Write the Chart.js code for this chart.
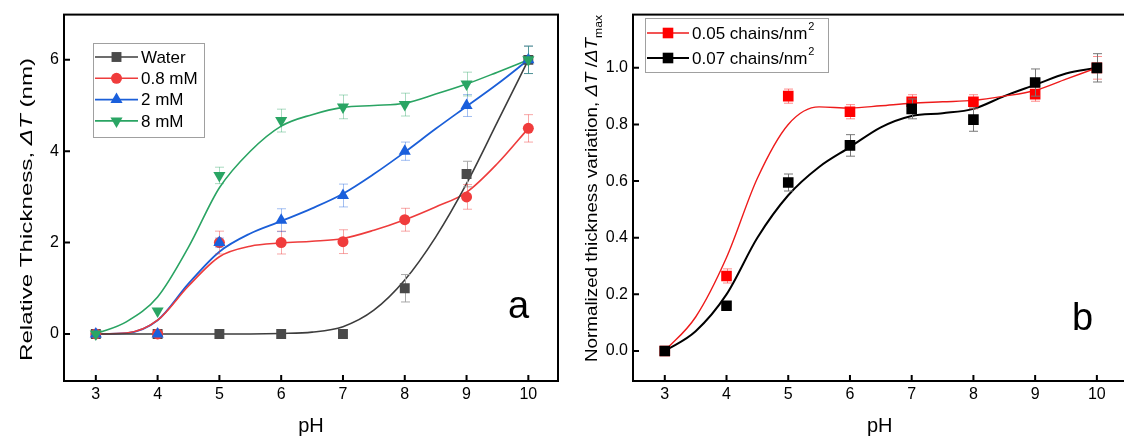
<!DOCTYPE html>
<html><head><meta charset="utf-8">
<script src="https://cdn.jsdelivr.net/npm/chart.js@4.4.0/dist/chart.umd.min.js"></script>
<style>
html,body{margin:0;padding:0;background:#fff;overflow:hidden;width:1124px;height:437px;}
#wa{position:absolute;left:0;top:0;width:565px;height:437px;}
#wb{position:absolute;left:565px;top:0;width:569px;height:437px;}
</style></head><body>
<div id="wa"><canvas id="ca"></canvas></div>
<div id="wb"><canvas id="cb"></canvas></div>
<script>
const font="'Liberation Sans', Arial, sans-serif";

// shared x
const pH=[3,4,5,6,7,8,9,10];
const xTicks=[3,4,5,6,7,8,9,10];
const fitX=[3,3.5,4,4.5,5,5.5,6,6.5,7,7.5,8,8.5,9,9.5,10];

// panel a
const aTicksY=[0,2,4,6];
const water=[0,0,0,0,0,1.0,3.5,6.0],        waterErr=[0,0,0,0,0,0.3,0.28,0.3];
const mM08=[0,0,2.0,2.0,2.02,2.5,3.0,4.5],   mM08Err=[0,0,0.25,0.25,0.26,0.25,0.27,0.3];
const mM2=[0,0,2.0,2.49,3.03,4.0,5.0,6.0],   mM2Err=[0,0,0.1,0.25,0.25,0.2,0.24,0.3];
const mM8=[0,0.5,3.47,4.67,4.97,5.02,5.47,6.0], mM8Err=[0,0,0.18,0.25,0.26,0.25,0.26,0.3];
const waterFit=[0,0,0,0,0,0,0.01,0.04,0.16,0.52,1.18,2.12,3.29,4.64,6.0];
const mM08Fit=[0,0.02,0.3,1.05,1.69,1.92,1.99,2.03,2.09,2.27,2.5,2.78,3.1,3.73,4.5];
const mM2Fit=[0,0.02,0.3,1.1,1.8,2.2,2.47,2.75,3.07,3.5,3.98,4.49,4.98,5.47,6.0];
const mM8Fit=[0,0.27,0.81,1.9,3.2,4.0,4.55,4.8,4.96,5.0,5.05,5.25,5.47,5.73,6.0];

// panel b
const bTicksY=[0,0.2,0.4,0.6,0.8,1.0];
const c05=[0,0.265,0.90,0.845,0.88,0.88,0.907,1.0], c05Err=[0,0.025,0.025,0.025,0.025,0.025,0.025,0.04];
const c07=[0,0.16,0.595,0.726,0.855,0.817,0.948,1.0], c07Err=[0,0,0.03,0.038,0.035,0.041,0.048,0.05];
const c05Fit=[0,0.12,0.33,0.61,0.8,0.862,0.858,0.866,0.875,0.88,0.885,0.9,0.92,0.96,1.0];
const c07Fit=[0,0.07,0.2,0.4,0.55,0.65,0.72,0.79,0.83,0.84,0.855,0.9,0.94,0.98,1.0];

const seriesA=[
  {label:'Water', y:water,err:waterErr,fit:waterFit,line:'#3d3d3d',fill:'#4a4a4a',errC:'#a8a8a8',shape:'rect',r:7,lw:1.6},
  {label:'0.8 mM',y:mM08,err:mM08Err,fit:mM08Fit,line:'#ee3c3c',fill:'#f03c3c',errC:'rgba(240,60,60,0.45)',shape:'circle',r:5.5,lw:1.6},
  {label:'2 mM',  y:mM2, err:mM2Err, fit:mM2Fit, line:'#1b5fd8',fill:'#1a5fdc',errC:'rgba(26,95,220,0.4)',shape:'triangle',r:7,lw:1.8},
  {label:'8 mM',  y:mM8, err:mM8Err, fit:mM8Fit, line:'#2aa463',fill:'#2aa564',errC:'rgba(42,165,100,0.4)',shape:'triangle',r:7,rot:180,lw:1.6}
];
const seriesB=[
  {label:'0.05 chains/nm',y:c05,err:c05Err,fit:c05Fit,line:'#ee1b1b',fill:'#ff0000',errC:'rgba(255,0,0,0.45)',shape:'rect',r:7.5,lw:1.4},
  {label:'0.07 chains/nm',y:c07,err:c07Err,fit:c07Fit,line:'#000',fill:'#000',errC:'#777',shape:'rect',r:7.5,lw:2}
];

function build(series){
  const ds=[];
  series.forEach((s,i)=>ds.push({data:fitX.map((x,j)=>({x,y:s.fit[j]})),showLine:true,borderColor:s.line,borderWidth:s.lw,
    pointRadius:0,cubicInterpolationMode:'monotone',fill:false,order:20+i}));
  series.forEach((s,i)=>ds.push({data:pH.map((x,j)=>({x,y:s.y[j]})),err:s.err,errC:s.errC,pointStyle:s.shape,rotation:s.rot||0,
    pointRadius:s.r,pointHoverRadius:s.r,backgroundColor:s.fill,borderColor:s.fill,borderWidth:0,order:10-i}));
  return ds;
}

// error bars, drawn just before each marker set
const errPlug={id:'err',beforeDatasetDraw(c,a){
  const d=c.data.datasets[a.index]; if(!d.err) return;
  const ctx=c.ctx,xs=c.scales.x,ys=c.scales.y;
  ctx.save(); ctx.strokeStyle=d.errC; ctx.lineWidth=1;
  d.data.forEach((p,j)=>{const e=d.err[j]; if(!e) return;
    const x=Math.round(xs.getPixelForValue(p.x))+0.5,y1=ys.getPixelForValue(p.y-e),y2=ys.getPixelForValue(p.y+e);
    ctx.beginPath(); ctx.moveTo(x,y1); ctx.lineTo(x,y2);
    ctx.moveTo(x-4.5,y1); ctx.lineTo(x+4.5,y1); ctx.moveTo(x-4.5,y2); ctx.lineTo(x+4.5,y2); ctx.stroke();});
  ctx.restore();
}};

// box frame + inward ticks
const framePlug={id:'frame',afterDatasetsDraw(c){
  const ctx=c.ctx,ca=c.chartArea;
  ctx.save(); ctx.strokeStyle='#000'; ctx.lineWidth=2;
  ctx.strokeRect(ca.left,ca.top,ca.right-ca.left,ca.bottom-ca.top);
  ctx.beginPath();
  c.scales.x.ticks.forEach(t=>{const x=c.scales.x.getPixelForValue(t.value); ctx.moveTo(x,ca.bottom); ctx.lineTo(x,ca.bottom-6);});
  c.scales.y.ticks.forEach(t=>{const y=c.scales.y.getPixelForValue(t.value); ctx.moveTo(ca.left,y); ctx.lineTo(ca.left+6,y);});
  ctx.stroke(); ctx.restore();
}};

function rich(ctx,parts,len){
  let w=0; parts.forEach(p=>{ctx.font=p.f; p.w=ctx.measureText(p.t).width; w+=p.w;});
  if(len) ctx.scale(len/w,1);
  let x=-w/2; parts.forEach(p=>{ctx.font=p.f; ctx.fillText(p.t,x,p.dy||0); x+=p.w;});
}

// titles, panel letter, legend
const textPlug={id:'txt',afterDraw(c,a,o){
  const ctx=c.ctx,ca=c.chartArea;
  ctx.save(); ctx.fillStyle='#000'; ctx.textBaseline='alphabetic';
  ctx.save(); ctx.translate(o.ty.x,o.ty.y); ctx.rotate(-Math.PI/2); rich(ctx,o.ty.parts,o.ty.len); ctx.restore();
  ctx.font='20px '+font; ctx.textAlign='center'; ctx.fillText('pH',(ca.left+ca.right)/2,432);
  ctx.textAlign='left'; ctx.font='38px '+font; ctx.fillText(o.letter.t,o.letter.x,o.letter.y);
  const L=o.legend;
  ctx.strokeStyle='#a0a0a0'; ctx.lineWidth=1; ctx.strokeRect(L.box[0]+0.5,L.box[1]+0.5,L.box[2],L.box[3]);
  L.series.forEach((s,i)=>{const y=L.y0+i*L.dy;
    ctx.strokeStyle=s.line; ctx.lineWidth=s.lw; ctx.beginPath(); ctx.moveTo(L.x0,y); ctx.lineTo(L.x1,y); ctx.stroke();
    ctx.fillStyle=s.fill; Chart.helpers.drawPoint(ctx,{pointStyle:s.shape,rotation:s.rot||0,radius:s.r,borderWidth:0},(L.x0+L.x1)/2,y);
    ctx.fillStyle='#000'; ctx.font='17px '+font; ctx.textBaseline='middle'; ctx.fillText(s.label,L.x1+3,y+1);
    if(L.sup){const w=ctx.measureText(s.label).width; ctx.font='11px '+font; ctx.fillText(L.sup,L.x1+3+w+1,y-6);}
  });
  ctx.restore();
}};

function makeChart(id,series,yMin,yMax,yTicks,yW,opt){
  return new Chart(document.getElementById(id),{type:'scatter',data:{datasets:build(series)},
    options:{responsive:true,maintainAspectRatio:false,animation:false,events:[],
      layout:{padding:{top:14,right:4,left:0,bottom:0}},
      scales:{
        x:{type:'linear',min:2.485,max:10.48,grid:{display:false,drawTicks:false},border:{display:false},
          afterBuildTicks:s=>{s.ticks=xTicks.map(v=>({value:v}));},afterFit:s=>{s.height=56;},
          ticks:{color:'#000',font:{family:font,size:16},padding:4}},
        y:{min:yMin,max:yMax,grid:{display:false,drawTicks:false},border:{display:false},
          afterBuildTicks:s=>{s.ticks=yTicks.map(v=>({value:v}));},afterFit:s=>{s.width=yW;},
          ticks:{color:'#000',font:{family:font,size:16},padding:5,callback:opt.fmt}}
      },
      plugins:{legend:{display:false},tooltip:{enabled:false},txt:opt}},
    plugins:[errPlug,framePlug,textPlug]});
}

const it='italic 17px '+font, rg='17px '+font;
makeChart('ca',seriesA,-1.03,6.99,aTicksY,64,{
  fmt:v=>String(v),
  ty:{x:32,y:209.5,len:303,parts:[{t:'Relative Thickness, ',f:rg},{t:'\u0394T',f:it},{t:' (nm)',f:rg}]},
  letter:{t:'a',x:508,y:318},
  legend:{box:[93,43,111,94],x0:95,x1:138,y0:57,dy:21.3,series:seriesA}
});
makeChart('cb',seriesB,-0.106,1.188,bTicksY,68,{
  fmt:v=>v.toFixed(1),
  ty:{x:32,y:188.5,len:347,parts:[{t:'Normalized thickness variation, ',f:rg},{t:'\u0394T',f:it},{t:' /',f:rg},{t:'\u0394T',f:it},{t:'max',f:'11px '+font,dy:5}]},
  letter:{t:'b',x:507,y:330},
  legend:{box:[80,18,183,54],x0:82,x1:124,y0:33,dy:25,sup:'2',series:seriesB}
});
</script>
</body></html>
